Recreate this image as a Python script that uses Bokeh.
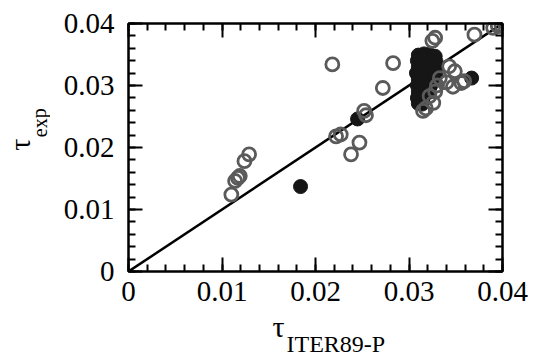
from bokeh.plotting import figure
from bokeh.models import Range1d, SingleIntervalTicker, LinearAxis, CustomJSTickFormatter, Label, ColumnDataSource
from bokeh.layouts import row, column
from bokeh.embed import file_html
from bokeh.resources import INLINE

# hollow (grey) points: tau_ITER89-P, tau_exp
open_x = [0.0110, 0.0114, 0.0117, 0.0119, 0.0124, 0.0129,
          0.0218, 0.0222, 0.0227, 0.0238, 0.0247, 0.0252, 0.0254, 0.0272, 0.0283,
          0.0325, 0.0328, 0.0370, 0.0390, 0.0395, 0.0399,
          0.0343, 0.0349, 0.0340, 0.0347, 0.0356, 0.0359,
          0.0322, 0.0326, 0.0318, 0.0315, 0.0328, 0.0330, 0.0333]
open_y = [0.0124, 0.0146, 0.0151, 0.0154, 0.0178, 0.0189,
          0.0334, 0.0218, 0.0221, 0.0189, 0.0208, 0.0259, 0.0252, 0.0296, 0.0336,
          0.0372, 0.0377, 0.0382, 0.0393, 0.0396, 0.0396,
          0.0331, 0.0323, 0.0305, 0.0298, 0.0304, 0.0307,
          0.0283, 0.0272, 0.0263, 0.0259, 0.0290, 0.0300, 0.0312]

# filled (black) points
fill_x = [0.0184, 0.0245, 0.0367,
          0.0310, 0.0316, 0.0322, 0.0328,
          0.0309, 0.0317, 0.0323, 0.0329,
          0.0310, 0.0316, 0.0322, 0.0328,
          0.0308, 0.0317, 0.0323, 0.0329,
          0.0310, 0.0316, 0.0322, 0.0327,
          0.0309, 0.0317, 0.0323,
          0.0310, 0.0316, 0.0321,
          0.0309, 0.0315,
          0.0310, 0.0314]
fill_y = [0.0137, 0.0246, 0.0312,
          0.0349, 0.0351, 0.0350, 0.0347,
          0.0340, 0.0341, 0.0339, 0.0338,
          0.0330, 0.0331, 0.0329, 0.0330,
          0.0320, 0.0321, 0.0319, 0.0320,
          0.0310, 0.0311, 0.0309, 0.0311,
          0.0300, 0.0301, 0.0299,
          0.0290, 0.0291, 0.0289,
          0.0280, 0.0279,
          0.0271, 0.0270]

# reference line tau_exp = tau_ITER89-P
line_x = [0.0, 0.04]
line_y = [0.0, 0.04]

FONT = "Liberation Serif"
TOTAL_W = 537
LEFT_W = 50
MAIN_W = TOTAL_W - LEFT_W
MAIN_H = 315
BOTTOM_H = 39

p = figure(width=MAIN_W, height=MAIN_H,
           min_border_left=128 - LEFT_W, min_border_right=MAIN_W - (128 - LEFT_W) - 374,
           min_border_top=23, min_border_bottom=MAIN_H - 23 - 248,
           x_range=Range1d(0, 0.04), y_range=Range1d(0, 0.04),
           output_backend="svg", toolbar_location=None, x_axis_location=None, y_axis_location=None)
p.xgrid.visible = False
p.ygrid.visible = False
p.outline_line_color = "black"
p.outline_line_width = 2
p.background_fill_color = "white"
p.border_fill_color = "white"
p.align = "start"

fmt = CustomJSTickFormatter(code="""
return (Math.abs(tick) < 1e-9) ? "0" : tick.toFixed(2);
""")
blank = CustomJSTickFormatter(code="return '';")

def make_axis(show_labels, standoff):
    ax = LinearAxis(ticker=SingleIntervalTicker(interval=0.01, num_minor_ticks=5),
                    formatter=fmt if show_labels else blank)
    ax.major_tick_in = 14
    ax.major_tick_out = 0
    ax.minor_tick_in = 7
    ax.minor_tick_out = 0
    ax.axis_line_width = 2
    ax.major_tick_line_width = 2
    ax.minor_tick_line_width = 2
    ax.major_label_text_font = FONT
    ax.major_label_text_font_size = "29px" if show_labels else "1px"
    ax.major_label_standoff = standoff
    ax.major_label_text_color = "black"
    return ax

p.add_layout(make_axis(True, 10), "below")
p.add_layout(make_axis(True, 14), "left")
p.add_layout(make_axis(False, 0), "above")
p.add_layout(make_axis(False, 0), "right")

p.line(line_x, line_y, line_color="black", line_width=2.5)

src_f = ColumnDataSource(dict(x=fill_x, y=fill_y))
src_o = ColumnDataSource(dict(x=open_x, y=open_y))
p.scatter("x", "y", source=src_f, size=14, fill_color="#161616", line_color="#161616", line_width=1)
p.scatter("x", "y", source=src_o, size=13, fill_color=None, line_color="#5a5a5a", line_width=2.8)

def text_panel(w, h, x0, y0):
    # a bare panel whose coordinates are page pixels (y downwards)
    f = figure(width=w, height=h, x_range=Range1d(x0, x0 + w), y_range=Range1d(y0 + h, y0),
               min_border=0, output_backend="svg", toolbar_location=None,
               x_axis_location=None, y_axis_location=None)
    f.xgrid.visible = False
    f.ygrid.visible = False
    f.outline_line_color = None
    f.background_fill_color = "white"
    f.border_fill_color = "white"
    f.align = "start"
    return f

# y title: tau_exp
fy = text_panel(LEFT_W, MAIN_H, 0, 0)
fy.add_layout(Label(x=19, y=154, text="τ", angle=1.5708, text_align="center", text_baseline="middle",
                    text_font=FONT, text_font_size="30px", text_color="black"))
fy.add_layout(Label(x=39, y=126, text="exp", angle=1.5708, text_align="center", text_baseline="middle",
                    text_font=FONT, text_font_size="20px", text_color="black"))

# x title: tau_ITER89-P
fx = text_panel(TOTAL_W, BOTTOM_H, 0, MAIN_H)
fx.add_layout(Label(x=278, y=326, text="τ", text_align="center", text_baseline="middle",
                    text_font=FONT, text_font_size="30px", text_color="black"))
fx.add_layout(Label(x=286, y=343, text="ITER89-P", text_align="left", text_baseline="middle",
                    text_font=FONT, text_font_size="24px", text_color="black"))

top = row(fy, p)
top.align = "start"
layout = column(top, fx)
layout.align = "start"

open("out.html", "w").write(file_html(layout, INLINE))
